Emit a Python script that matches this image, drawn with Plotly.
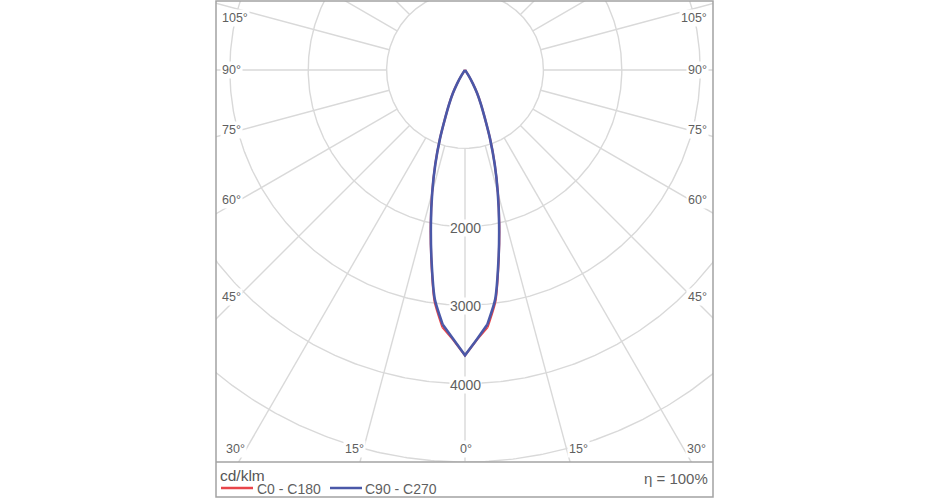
import numpy as np
import plotly.graph_objects as go

# ---- data (cd/klm) ----
gamma_deg = [0, 2.5, 5, 7.5, 10, 12.5, 15, 17.5, 20, 22.5, 25, 27.5, 30, 32.5, 35, 37.5, 40, 45, 50, 60, 70, 80, 90]
i_c0_c180 = [3640, 3445, 3295, 2975, 2470, 2020, 1620, 1262, 937, 657, 478, 338, 200, 90, 25, 0, 0, 0, 0, 0, 0, 0, 0]
i_c90_c270 = [3640, 3440, 3260, 2950, 2460, 2010, 1615, 1260, 935, 655, 475, 335, 200, 90, 25, 0, 0, 0, 0, 0, 0, 0, 0]

ring_values = [1000, 2000, 3000, 4000, 5000, 6000]
ring_labels = ["2000", "3000", "4000"]
spoke_angles = list(range(0, 181, 15))
left_angle_labels = ["105°", "90°", "75°", "60°", "45°"]
bottom_angle_labels = ["30°", "15°", "0°", "15°", "30°"]
series_names = ["C0 - C180", "C90 - C270"]
unit_label = "cd/klm"
efficiency_label = "η = 100%"

# ---- layout geometry (pixels) ----
W, H = 930, 500
PL, PR, PT, PB = 216, 713, 1, 462        # plot area box
CX, CY = 465, 70                         # pole position
SCALE = 78.4 / 1000.0                    # px per cd/klm

x_range = [-(CX - PL) / SCALE, (PR - CX) / SCALE]
y_range = [-(PB - CY) / SCALE, (CY - PT) / SCALE]

GRID = "#d9d9d9"
TXT = "#5f5f5f"
RED = "#e8454a"
BLUE = "#4a58a8"
FONT = "Liberation Sans, Arial"
KINK = 5  # angle where the beam outline has a corner


def polar_xy(gdeg, ivals):
    g = np.radians(np.asarray(gdeg, dtype=float))
    r = np.asarray(ivals, dtype=float)
    return r * np.sin(g), -r * np.cos(g)


def add_series(fig, gdeg, ivals, color, width, name):
    g = np.asarray(gdeg, dtype=float)
    r = np.asarray(ivals, dtype=float)
    core = g <= KINK
    outer = g >= KINK
    # central part (straight segments, sharp corner)
    gg = np.concatenate([-g[core][::-1], g[core][1:]])
    rr = np.concatenate([r[core][::-1], r[core][1:]])
    xs, ys = polar_xy(gg, rr)
    fig.add_trace(go.Scatter(x=xs, y=ys, mode="lines", name=name, showlegend=False,
                             line=dict(color=color, width=width)))
    # flanks (smooth)
    for sgn in (1, -1):
        xs, ys = polar_xy(sgn * g[outer], r[outer])
        fig.add_trace(go.Scatter(x=xs, y=ys, mode="lines", name=name, showlegend=False,
                                 line=dict(color=color, width=width, shape="spline", smoothing=0.6)))


fig = go.Figure()

# rings
t = np.linspace(0, 2 * np.pi, 721)
gx, gy = [], []
for rv in ring_values:
    gx += list(rv * np.cos(t)) + [None]
    gy += list(rv * np.sin(t)) + [None]
fig.add_trace(go.Scatter(x=gx, y=gy, mode="lines", line=dict(color=GRID, width=1.4),
                         hoverinfo="skip", showlegend=False))

# spokes
sx, sy = [], []
for a in spoke_angles:
    for sgn in ([1] if a in (0, 180) else [1, -1]):
        xs, ys = polar_xy([sgn * a, sgn * a], [ring_values[0], 9000])
        sx += list(xs) + [None]
        sy += list(ys) + [None]
fig.add_trace(go.Scatter(x=sx, y=sy, mode="lines", line=dict(color=GRID, width=1.4),
                         hoverinfo="skip", showlegend=False))

# curves
add_series(fig, gamma_deg, i_c0_c180, RED, 2.2, series_names[0])
add_series(fig, gamma_deg, i_c90_c270, BLUE, 2.6, series_names[1])

pw, ph = PR - PL, PB - PT


def px(xp):
    return (xp - PL) / pw


def py(yp):
    return (PB - yp) / ph


ann = []
for lab in ring_labels:
    ann.append(dict(x=0, y=-float(lab), xref="x", yref="y", text=lab, showarrow=False,
                    font=dict(size=14, color=TXT, family=FONT),
                    bgcolor="white", borderpad=0, yshift=-1))

side_y = [18, 70, 130, 200, 297]
for lab, yy in zip(left_angle_labels, side_y):
    ann.append(dict(x=px(220), y=py(yy), xref="paper", yref="paper", text=lab, showarrow=False,
                    xanchor="left", yanchor="middle", bgcolor="white", borderpad=1,
                    font=dict(size=12.5, color=TXT, family=FONT)))
    ann.append(dict(x=px(709), y=py(yy), xref="paper", yref="paper", text=lab, showarrow=False,
                    xanchor="right", yanchor="middle", bgcolor="white", borderpad=1,
                    font=dict(size=12.5, color=TXT, family=FONT)))
bottom_x = [235, 354, 466, 578, 696]
for lab, xx in zip(bottom_angle_labels, bottom_x):
    ann.append(dict(x=px(xx), y=py(449), xref="paper", yref="paper", text=lab, showarrow=False,
                    xanchor="center", yanchor="middle", bgcolor="white", borderpad=1,
                    font=dict(size=12.5, color=TXT, family=FONT)))

ann.append(dict(x=px(218), y=py(475), xref="paper", yref="paper", text=unit_label, showarrow=False,
                xanchor="left", yanchor="middle",
                font=dict(size=15.5, color="#555555", family=FONT)))
ann.append(dict(x=px(255), y=py(489), xref="paper", yref="paper", text=series_names[0], showarrow=False,
                xanchor="left", yanchor="middle",
                font=dict(size=14, color=TXT, family=FONT)))
ann.append(dict(x=px(363), y=py(489), xref="paper", yref="paper", text=series_names[1], showarrow=False,
                xanchor="left", yanchor="middle",
                font=dict(size=14, color=TXT, family=FONT)))
ann.append(dict(x=px(710), y=py(478), xref="paper", yref="paper", text=efficiency_label, showarrow=False,
                xanchor="right", yanchor="middle",
                font=dict(size=15, color=TXT, family=FONT)))

shapes = [
    dict(type="rect", xref="paper", yref="paper", x0=0, x1=1, y0=py(497), y1=1,
         line=dict(color="#a3a3a3", width=1.5)),
    dict(type="line", xref="paper", yref="paper", x0=0, x1=1, y0=0, y1=0,
         line=dict(color="#a3a3a3", width=1.5)),
    dict(type="line", xref="paper", yref="paper", x0=px(221), x1=px(253), y0=py(488), y1=py(488),
         line=dict(color=RED, width=2.5)),
    dict(type="line", xref="paper", yref="paper", x0=px(330), x1=px(362), y0=py(488), y1=py(488),
         line=dict(color=BLUE, width=2.5)),
]

fig.update_layout(
    width=W, height=H,
    margin=dict(l=PL, r=W - PR, t=PT, b=H - PB, pad=0),
    paper_bgcolor="white", plot_bgcolor="white",
    xaxis=dict(range=x_range, visible=False, showgrid=False, zeroline=False, fixedrange=True),
    yaxis=dict(range=y_range, visible=False, showgrid=False, zeroline=False, fixedrange=True),
    annotations=ann, shapes=shapes, showlegend=False,
)

fig.write_html(
    "out.html",
    config={"displayModeBar": False},
    post_script="document.body.style.margin='0px';document.body.style.overflow='hidden';",
)
